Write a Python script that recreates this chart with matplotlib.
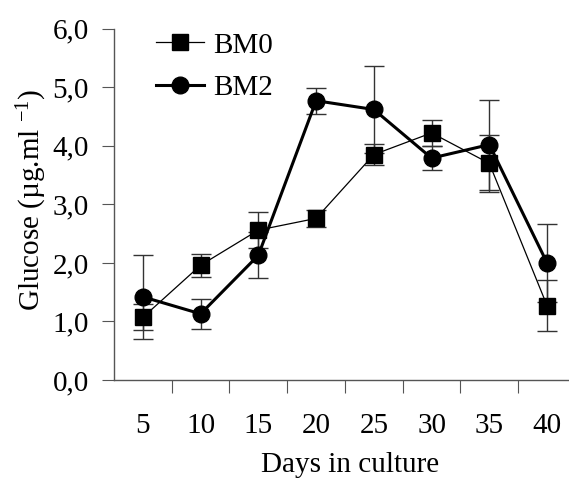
import matplotlib
matplotlib.use("Agg")
import matplotlib.pyplot as plt
import numpy as np

plt.rcParams['font.family'] = ['Liberation Serif', 'DejaVu Serif']
plt.rcParams['mathtext.default'] = 'regular'

days = ["5", "10", "15", "20", "25", "30", "35", "40"]
bm0 = [1.07, 1.96, 2.56, 2.76, 3.85, 4.22, 3.70, 1.27]
bm0_err = [0.22, 0.20, 0.31, 0.15, 0.18, 0.22, 0.49, 0.44]
bm2 = [1.42, 1.13, 2.13, 4.77, 4.62, 3.79, 4.02, 2.00]
bm2_err = [0.72, 0.26, 0.39, 0.22, 0.74, 0.21, 0.77, 0.66]

x = np.arange(len(days))
fs = 21

fig = plt.figure(figsize=(5.69, 4.79), dpi=100)
ax = fig.add_axes([114/569, 1 - 380/479, 1 - 114/569, (380 - 28.7)/479])

ax.errorbar(x, bm0, yerr=bm0_err, fmt='none', ecolor='#333333',
            elinewidth=1, capsize=7, capthick=1, zorder=2)
ax.errorbar(x, bm2, yerr=bm2_err, fmt='none', ecolor='#333333',
            elinewidth=1, capsize=7, capthick=1, zorder=2)
ax.plot(x, bm0, color='black', lw=0.9, marker='s', ms=11.5, label='BM0', zorder=3)
ax.plot(x, bm2, color='black', lw=2.2, marker='o', ms=12, label='BM2', zorder=4)

ax.set_xlim(-0.5, 7.38)
ax.set_ylim(0, 6)
yt = np.arange(0, 6.1, 1.0)
ax.set_yticks(yt)
ax.set_yticklabels([f"{v:.1f}".replace('.', ',') for v in yt])
ax.set_xticks(np.arange(0.5, 7.5, 1.0))
ax.set_xticklabels([])
ax.set_xticks(x, minor=True)
ax.set_xticklabels(days, minor=True)
ax.tick_params(axis='x', which='minor', length=0, pad=24, labelsize=fs)
ax.tick_params(axis='x', which='major', direction='out', length=9, color='#555555')
ax.tick_params(axis='y', direction='out', length=9, labelsize=fs, color='#555555', pad=9)

for s in ['top', 'right']:
    ax.spines[s].set_visible(False)
for s in ['left', 'bottom']:
    ax.spines[s].set_color('#555555')
    ax.spines[s].set_linewidth(1)

ax.set_xlabel("Days in culture", fontsize=fs)
ax.set_ylabel("Glucose (µg.ml $^{-1}$)", fontsize=fs)
ax.xaxis.set_label_coords((350 - 114) / 455, -(465 - 380) / 351.3)
ax.yaxis.set_label_coords(-(114 - 32) / 455, (380 - 200) / 351.3)
ax.xaxis.label.set_va('center')
ax.yaxis.label.set_va('center')

ax.legend(loc='upper left', bbox_to_anchor=(0.035, 1.065), frameon=False,
          fontsize=fs, handlelength=1.65, handletextpad=0.3, labelspacing=0.55)

fig.savefig("out.png", dpi=100)
